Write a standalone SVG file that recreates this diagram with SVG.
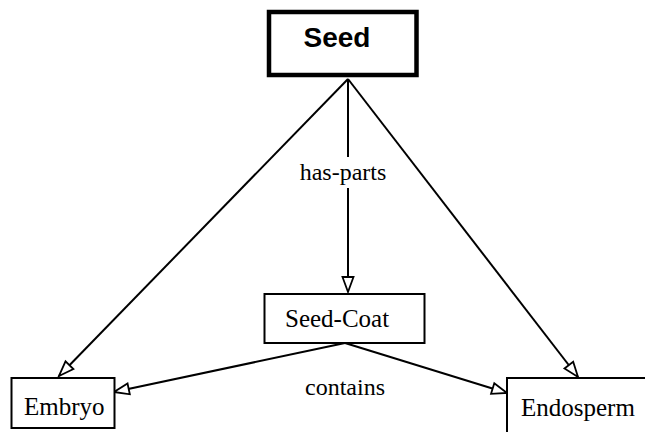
<svg xmlns="http://www.w3.org/2000/svg" width="645" height="432" viewBox="0 0 645 432">
  <style>
    .box { fill: #fff; stroke: #000; stroke-width: 2; }
    .root { fill: #fff; stroke: #000; stroke-width: 4.5; }
    .edge { fill: none; stroke: #000; stroke-width: 2; marker-end: url(#open); }
    .lbl { font-family: "Liberation Serif", "Times New Roman", serif; font-size: 25px; fill: #000; }
    .elbl { font-family: "Liberation Serif", "Times New Roman", serif; font-size: 24px; fill: #000; text-anchor: middle; }
  </style>
  <defs>
    <!-- open triangular arrowhead, tip at the line end -->
    <marker id="open" markerUnits="userSpaceOnUse" markerWidth="20" markerHeight="14" viewBox="-17 -7 20 14" refX="0" refY="0" orient="auto" overflow="visible">
      <path d="M0,0 L-15,-5.5 L-15,5.5 Z" fill="#fff" stroke="#000" stroke-width="1.8" stroke-linejoin="miter"/>
    </marker>
  </defs>
  <rect width="645" height="432" fill="#fff"/>

  <g id="connectors">
    <line class="edge" x1="348" y1="79" x2="59" y2="376"/>
    <line class="edge" x1="348" y1="79" x2="578" y2="377"/>
    <line class="edge" x1="348" y1="79" x2="348" y2="292"/>
    <line class="edge" x1="345" y1="343" x2="114" y2="392"/>
    <line class="edge" x1="345" y1="343" x2="507" y2="393"/>
    <rect x="294" y="157" width="98" height="31" fill="#fff"/>
    <text class="elbl" x="343" y="180">has-parts</text>
    <text class="elbl" x="345" y="395">contains</text>
  </g>

  <g id="seed">
    <rect class="root" x="269" y="12" width="147.5" height="63"/>
    <text x="337" y="47" font-family="'Liberation Sans', Arial, sans-serif" font-size="28" font-weight="bold" text-anchor="middle">Seed</text>
  </g>

  <g id="seed-coat">
    <rect class="box" x="264.5" y="294" width="160" height="49"/>
    <text class="lbl" x="285" y="327">Seed-Coat</text>
  </g>

  <g id="embryo">
    <rect class="box" x="11.5" y="378" width="103" height="50"/>
    <text class="lbl" x="24" y="415">Embryo</text>
  </g>

  <g id="endosperm">
    <rect class="box" x="507" y="378" width="145" height="60"/>
    <text class="lbl" x="521" y="416">Endosperm</text>
  </g>
</svg>
